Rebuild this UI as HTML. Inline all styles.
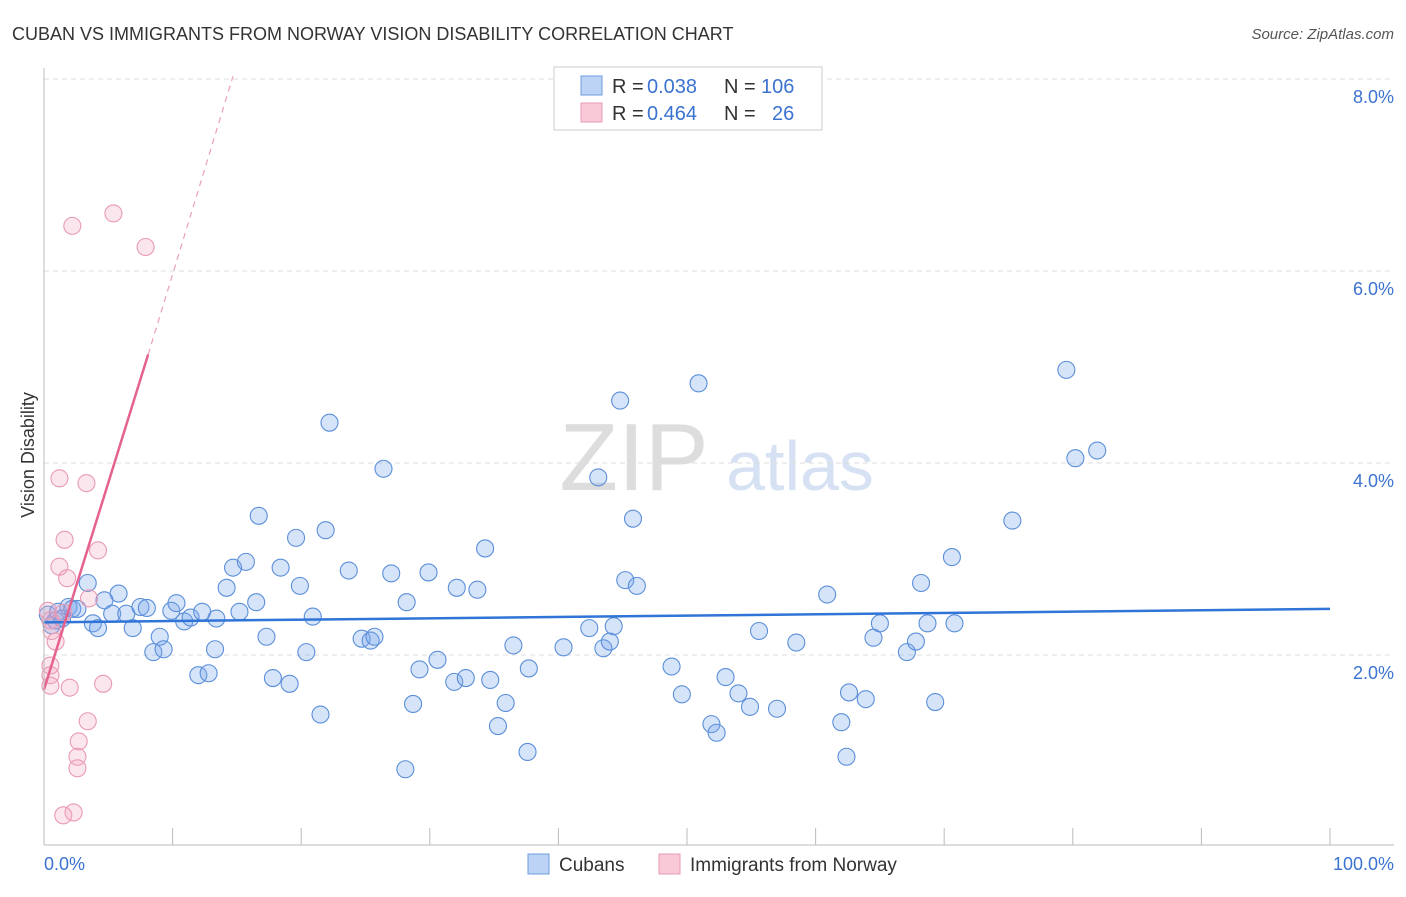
<!DOCTYPE html>
<html><head><meta charset="utf-8"><style>
body{margin:0;background:#fff;font-family:"Liberation Sans",sans-serif}
svg text{font-family:"Liberation Sans",sans-serif}
</style></head><body>
<svg id="c" width="1406" height="892">
<text x="12" y="40" font-size="18" fill="#333">CUBAN VS IMMIGRANTS FROM NORWAY VISION DISABILITY CORRELATION CHART</text>
<text x="1394" y="39" font-size="15" fill="#555" text-anchor="end" font-style="italic">Source: ZipAtlas.com</text>
<text x="634" y="490" font-size="96" fill="#ddd" font-family="Liberation Serif" text-anchor="middle">ZIP</text>
<text x="800" y="490" font-size="70" fill="#d6e2f4" text-anchor="middle">atlas</text>
<text x="34" y="455" font-size="18" fill="#333" text-anchor="middle" transform="rotate(-90 34 455)">Vision Disability</text>
<g id="grid"></g><g id="pts"></g><g id="lines"></g>
<line x1="44" y1="68" x2="44" y2="845" stroke="#bbb"/>
<line x1="44" y1="845" x2="1394" y2="845" stroke="#bbb"/>
<text x="44" y="870" font-size="18" fill="#3b73d1">0.0%</text>
<text x="1394" y="870" font-size="18" fill="#3b73d1" text-anchor="end">100.0%</text>
<g>
<rect x="554" y="67" width="268" height="63" fill="#fff" stroke="#ccc"/>
<rect x="581" y="76" width="21" height="19" fill="#bcd3f5" stroke="#6e9be0"/>
<rect x="581" y="103" width="21" height="19" fill="#f9c9d8" stroke="#ea9ab4"/>
<text x="612" y="93" font-size="20" fill="#333">R =</text><text x="647" y="93" font-size="20" fill="#3b73d1">0.038</text>
<text x="724" y="93" font-size="20" fill="#333">N =</text><text x="761" y="93" font-size="20" fill="#3b73d1">106</text>
<text x="612" y="120" font-size="20" fill="#333">R =</text><text x="647" y="120" font-size="20" fill="#3b73d1">0.464</text>
<text x="724" y="120" font-size="20" fill="#333">N =</text><text x="772" y="120" font-size="20" fill="#3b73d1">26</text>
</g>
<g>
<rect x="528" y="854" width="21" height="20" fill="#bcd3f5" stroke="#6e9be0"/>
<text x="559" y="871" font-size="19" fill="#333">Cubans</text>
<rect x="659" y="854" width="21" height="20" fill="#f9c9d8" stroke="#ea9ab4"/>
<text x="690" y="871" font-size="19" fill="#333">Immigrants from Norway</text>
</g>
</svg>
<script>
const yTicks=[2,4,6,8];
const blueX=[0.3,0.6,0.9,1.1,1.4,1.9,2.2,2.6,3.4,3.8,4.2,4.7,5.3,5.8,6.4,6.9,7.5,8,8.5,9,9.3,9.9,10.3,10.9,11.4,12,12.3,12.8,13.3,13.4,14.2,14.7,15.2,15.7,16.5,16.7,17.3,17.8,18.4,19.1,19.6,19.9,20.4,20.9,21.5,21.9,22.2,23.7,24.7,25.4,25.7,26.4,27,28.1,28.2,28.7,29.2,29.9,30.6,31.9,32.1,32.8,33.7,34.3,34.7,35.3,35.9,36.5,37.6,37.7,40.4,42.4,43.1,43.5,44,44.3,44.8,45.2,45.8,46.1,48.8,49.6,50.9,51.9,52.3,53,54,54.9,55.6,57,58.5,60.9,62,62.4,62.6,63.9,64.5,65,67.1,67.8,68.2,68.7,69.3,70.6,70.8,75.3,79.5,80.2,81.9];
const blueY=[2.42,2.31,2.36,2.45,2.38,2.5,2.48,2.48,2.75,2.33,2.28,2.57,2.43,2.64,2.43,2.28,2.5,2.49,2.03,2.19,2.06,2.46,2.54,2.35,2.39,1.79,2.45,1.81,2.06,2.38,2.7,2.91,2.45,2.97,2.55,3.45,2.19,1.76,2.91,1.7,3.22,2.72,2.03,2.4,1.38,3.3,4.42,2.88,2.17,2.15,2.19,3.94,2.85,0.81,2.55,1.49,1.85,2.86,1.95,1.72,2.7,1.76,2.68,3.11,1.74,1.26,1.5,2.1,0.99,1.86,2.08,2.28,3.85,2.07,2.14,2.3,4.65,2.78,3.42,2.72,1.88,1.59,4.83,1.28,1.19,1.77,1.6,1.46,2.25,1.44,2.13,2.63,1.3,0.94,1.61,1.54,2.18,2.33,2.03,2.14,2.75,2.33,1.51,3.02,2.33,3.4,4.97,4.05,4.13];
const pinkX=[0.3,0.5,0.6,0.5,0.5,0.5,0.9,1.2,1.2,1.5,1.8,2,2.2,3.3,3.4,3.5,4.2,4.6,1.6,2.7,2.6,2.6,1.5,2.3,5.4,7.9];
const pinkY=[2.46,2.36,2.25,1.89,1.79,1.68,2.14,3.84,2.92,2.44,2.8,1.66,6.47,3.79,1.31,2.59,3.09,1.7,3.2,1.1,0.94,0.82,0.33,0.36,6.6,6.25];
const blueTrend=[0,2.34,100,2.48];
const pinkTrend=[0,1.64,8.1,5.13,14.7,8.03];
const X=v=>44+v*12.86, Y=v=>847-v*96;
const NS='http://www.w3.org/2000/svg';
function mk(t,a,p){const e=document.createElementNS(NS,t);for(const k in a)e.setAttribute(k,a[k]);document.getElementById(p).appendChild(e);return e;}
yTicks.forEach(t=>{
 const l=mk('line',{x1:44,x2:1394,y1:Y(t),y2:Y(t),stroke:'#ddd','stroke-dasharray':'5,4'},'grid');
 
 
 const tx=mk('text',{x:1394,y:Y(t)+24,'font-size':18,fill:'#3b73d1','text-anchor':'end'},'grid');
 tx.textContent=t.toFixed(1)+'%';
 
 
});
for(let i=1;i<=10;i++){
 const l=mk('line',{x1:X(i*10),x2:X(i*10),y1:828,y2:845,stroke:'#bbb'},'grid');
 
 
}
blueX.forEach((v,i)=>{
 const c=mk('circle',{cx:X(v),cy:Y(blueY[i]),r:8.5,fill:'rgba(120,165,235,0.3)',stroke:'#5b8fd9','stroke-width':1.1},'pts');
 
 
});
pinkX.forEach((v,i)=>{
 const c=mk('circle',{cx:X(v),cy:Y(pinkY[i]),r:8.5,fill:'rgba(245,165,195,0.28)',stroke:'#e99ab3','stroke-width':1.1},'pts');
 
 
});
const bl=mk('line',{x1:X(blueTrend[0]),y1:Y(blueTrend[1]),x2:X(blueTrend[2]),y2:Y(blueTrend[3]),stroke:'#2f74d6','stroke-width':2.5},'lines');


const pl=mk('line',{x1:X(pinkTrend[0]),y1:Y(pinkTrend[1]),x2:X(pinkTrend[2]),y2:Y(pinkTrend[3]),stroke:'#e5628f','stroke-width':2.5},'lines');


const pd=mk('line',{x1:X(pinkTrend[2]),y1:Y(pinkTrend[3]),x2:X(pinkTrend[4]),y2:Y(pinkTrend[5]),stroke:'#eaa0b8','stroke-width':1.2,'stroke-dasharray':'6,5'},'lines');


</script>
</body></html>
